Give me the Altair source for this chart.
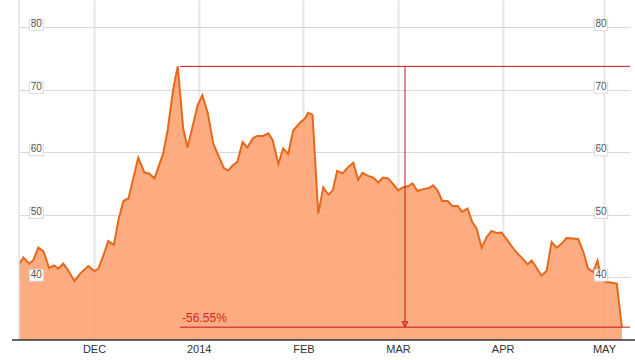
import altair as alt
import pandas as pd

# ---- data ----
days = [-22.4, -20.9, -19.2, -18.0, -16.5, -15.0, -13.3, -11.8, -10.6, -9.1, -7.6, -5.8, -4.1, -1.7,
        0.1, 1.3, 2.8, 4.2, 5.9, 7.2, 8.7, 10.2, 13.1, 14.9, 16.3, 17.9, 20.5, 21.8, 23.5, 24.8,
        26.4, 27.7, 30.7, 32.1, 33.7, 35.3, 36.8, 38.5, 39.8, 41.1, 42.4, 44.0, 45.4, 47.0, 48.3,
        50.1, 51.6, 52.9, 54.6, 56.0, 57.5, 59.0, 61.0, 62.5, 63.4, 64.7, 66.4, 67.9, 69.4, 70.7,
        72.0, 73.6, 75.3, 76.8, 78.2, 79.5, 81.2, 82.7, 84.2, 85.5, 87.1, 88.6, 90.1, 91.6, 93.0,
        94.3, 95.8, 97.5, 99.3, 100.4, 101.7, 103.1, 104.7, 106.1, 107.7, 109.0, 110.6, 112.0,
        113.3, 114.8, 116.3, 117.7, 119.2, 120.7, 122.6, 124.6, 126.6, 128.4, 129.6, 130.6, 132.5,
        134.0, 135.5, 137.0, 138.5, 139.9, 141.7, 143.4, 144.9, 146.3, 147.8, 149.1, 149.8, 151.3,
        152.8, 154.8, 156.3]
price = [41.9, 43.2, 42.2, 42.7, 44.75, 44.2, 41.5, 41.9, 41.4, 42.2, 41.1, 39.4, 40.6, 41.8,
         41.0, 41.4, 43.5, 45.8, 45.2, 49.1, 52.2, 52.6, 59.1, 56.75, 56.6, 55.8, 59.8, 63.5, 70.2,
         73.7, 63.8, 60.75, 67.5, 69.1, 66.2, 61.4, 59.5, 57.4, 57.1, 57.9, 58.4, 61.6, 60.75, 62.2,
         62.6, 62.6, 63.0, 61.9, 58.1, 60.6, 59.7, 63.5, 64.7, 65.4, 66.3, 66.0, 50.2, 54.4, 53.2,
         53.9, 57.0, 56.6, 57.65, 58.3, 55.6, 56.7, 56.2, 55.95, 55.15, 55.95, 55.8, 54.9, 53.9,
         54.4, 54.55, 55.0, 53.8, 54.1, 54.3, 54.7, 53.9, 52.2, 52.2, 51.4, 51.4, 50.45, 51.0,
         48.85, 47.8, 44.75, 46.45, 47.4, 47.1, 47.15, 45.8, 44.3, 43.15, 42.1, 42.7, 41.9, 40.3,
         41.0, 45.65, 44.75, 45.4, 46.3, 46.2, 46.1, 44.05, 41.4, 40.85, 42.7, 40.85, 39.3, 39.2,
         39.0, 32.0]
y_ticks = [40, 50, 60, 70, 80]
peak_value = 73.7
low_value = 32.05
change_label = "-56.55%"
ann_start = "2013-12-26T12:00:00"
ann_arrow = "2014-03-03T02:00:00"

base = pd.Timestamp("2013-12-01")
df = pd.DataFrame({"date": base + pd.to_timedelta(days, unit="D"), "price": price})
ann = pd.DataFrame({"start": [pd.Timestamp(ann_start)], "arrow": [pd.Timestamp(ann_arrow)],
                    "top": [peak_value], "low": [low_value], "label": [change_label]})
labs = pd.DataFrame({"v": y_ticks})

W, H = 611, 340
RED = "#c0161c"
xscale = alt.Scale(domain=[alt.DateTime(year=2013, month=11, date=8, hours=19),
                           alt.DateTime(year=2014, month=5, date=8, hours=17)])
yscale = alt.Scale(domain=[30, 84.3], zero=False, nice=False)

month_vals = [alt.DateTime(year=2013, month=12, date=1), alt.DateTime(year=2014, month=1, date=1),
              alt.DateTime(year=2014, month=2, date=1), alt.DateTime(year=2014, month=3, date=1),
              alt.DateTime(year=2014, month=4, date=1), alt.DateTime(year=2014, month=5, date=1)]

xaxis = alt.Axis(values=month_vals, grid=True, gridColor="#e6e6e6", gridWidth=2, ticks=False,
                 domain=False, labelFont="Arial", labelFontSize=11, labelColor="#333",
                 labelPadding=3, labelAngle=0, title=None,
                 labelExpr="month(datum.value) == 0 ? timeFormat(datum.value, '%Y') : upper(timeFormat(datum.value, '%b'))")
yaxis = alt.Axis(values=y_ticks, grid=True, gridColor="#d9d9d9", gridWidth=1, labels=False,
                 ticks=False, domain=False, title=None)

area = alt.Chart(df).mark_area(color="#fc9e6a", opacity=0.85, clip=True).encode(
    x=alt.X("date:T", scale=xscale, axis=xaxis),
    y=alt.Y("price:Q", scale=yscale, axis=yaxis),
    y2=alt.datum(30),
)
line = alt.Chart(df).mark_line(color="#e5681c", strokeWidth=2, clip=True).encode(
    x=alt.X("date:T", scale=xscale),
    y=alt.Y("price:Q", scale=yscale),
)

one = pd.DataFrame({"a": [0]})
left_border = alt.Chart(one).mark_rule(color="#e0e0e0", strokeWidth=1.5).encode(
    x=alt.value(0), y=alt.value(0), y2=alt.value(H))
bottom_axis = alt.Chart(one).mark_rule(color="#333333", strokeWidth=1.5).encode(
    x=alt.value(-7), x2=alt.value(W + 5), y=alt.value(H))

top_rule = alt.Chart(ann).mark_rule(color=RED, strokeWidth=1).encode(
    x=alt.X("start:T", scale=xscale), x2=alt.value(W), y=alt.Y("top:Q", scale=yscale))
low_rule = alt.Chart(ann).mark_rule(color=RED, strokeWidth=1).encode(
    x=alt.X("start:T", scale=xscale), x2=alt.value(W), y=alt.Y("low:Q", scale=yscale))
vert_rule = alt.Chart(ann).mark_rule(color=RED, strokeWidth=1).encode(
    x=alt.X("arrow:T", scale=xscale), y=alt.Y("top:Q", scale=yscale), y2="low:Q")
arrow = alt.Chart(ann).transform_calculate(ay="datum.low + 0.45").mark_point(
    shape="triangle-down", filled=False, color=RED, size=35, strokeWidth=1, opacity=1).encode(
    x=alt.X("arrow:T", scale=xscale), y=alt.Y("ay:Q", scale=yscale))
pct = alt.Chart(ann).mark_text(align="left", baseline="alphabetic", dx=2, dy=-5, fontSize=12,
                               font="Arial", color="#d8281e").encode(
    x=alt.X("start:T", scale=xscale), y=alt.Y("low:Q", scale=yscale), text="label:N")

lab_base = alt.Chart(labs).transform_calculate(lo="datum.v - 0.59", hi="datum.v + 1.23",
                                               tv="datum.v + 0.43")
boxes = []
for x0, x1 in [(10.3, 24.3), (575.3, 588.7)]:
    boxes.append(lab_base.mark_rect(fill="white", stroke="#d8d8d8", strokeWidth=1).encode(
        x=alt.value(x0), x2=alt.value(x1),
        y=alt.Y("lo:Q", scale=yscale), y2="hi:Q"))
    boxes.append(lab_base.mark_text(fontSize=10, font="Arial", color="#555555",
                                    baseline="middle", align="center").encode(
        x=alt.value((x0 + x1) / 2), y=alt.Y("tv:Q", scale=yscale), text=alt.Text("v:Q")))

chart = alt.layer(area, line, left_border, bottom_axis, top_rule, low_rule, vert_rule, arrow, pct,
                  *boxes).properties(
    width=W, height=H,
    padding={"left": 19, "top": 0, "right": 5, "bottom": 20},
    autosize=alt.AutoSizeParams(type="none"),
).configure_view(strokeWidth=0)

chart.save("out.html", embed_options={"renderer": "svg", "actions": False})
